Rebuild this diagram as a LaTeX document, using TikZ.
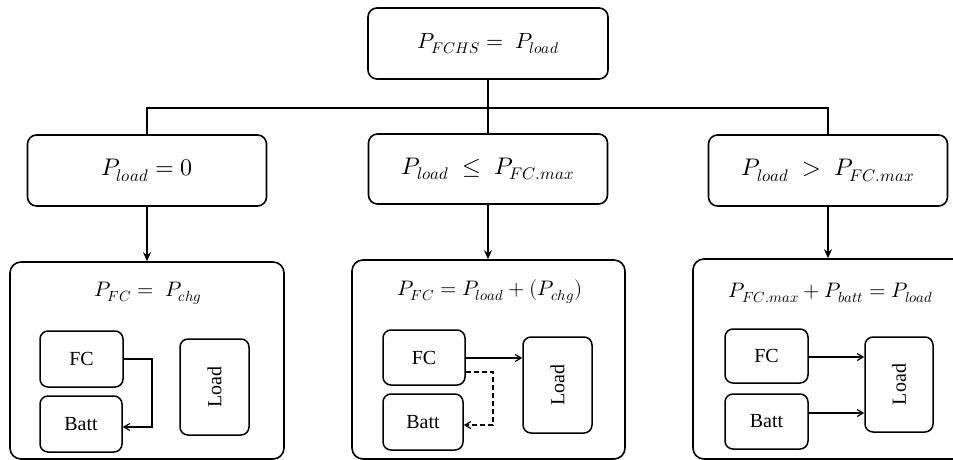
\documentclass[tikz,border=0pt]{standalone}
\usepackage{fontspec}
\usepackage{unicode-math}
\setmainfont{Liberation Serif}
\setmathfont{Latin Modern Math}
\usetikzlibrary{arrows.meta}

\tikzset{
  cond/.style={draw, line width=1.6pt, rounded corners=9pt, align=center,
    font=\fontsize{22}{26}\selectfont},
  case/.style={cond, font=\fontsize{24}{28}\selectfont},
  panel/.style={draw, line width=1.6pt, rounded corners=11pt},
  unit/.style={draw, line width=1.5pt, rounded corners=8pt,
    font=\fontsize{20}{24}\selectfont},
  eqn/.style={font=\fontsize{21}{25}\selectfont},
  bus/.style={line width=1.5pt},
  down/.style={line width=1.5pt, -{Stealth[length=9pt,width=8pt]}},
  flow/.style={line width=1.2pt, -{Straight Barb[length=6pt,width=7pt]}},
  dashflow/.style={flow, dash pattern=on 5pt off 3pt},
}

\begin{document}
\begin{tikzpicture}[x=1pt, y=-1pt]
\clip (0,0) rectangle (953,460);

% top decision
\node[cond, minimum width=240pt, minimum height=71pt] (root) at (488,43.5)
  {$P_{FCHS} =\; P_{load}$};

% three cases
\node[case, minimum width=239pt, minimum height=71pt] (c1) at (147,170.5)
  {$P_{load} = 0$};
\node[case, minimum width=239pt, minimum height=70pt] (c2) at (488,169)
  {$P_{load} \;\le\; P_{FC.max}$};
\node[case, minimum width=239pt, minimum height=71pt] (c3) at (828,170.5)
  {$P_{load} \;>\; P_{FC.max}$};

% branching bus
\coordinate (j) at (488,108);
\draw[bus] (root.south) -- (j);
\draw[bus] (c1.north) |- (j) -| (c3.north);
\draw[bus] (j) -- (c2.north);

% result panels
\node[panel, minimum width=274pt, minimum height=197pt] (p1) at (147,360.5) {};
\node[panel, minimum width=273pt, minimum height=199pt] (p2) at (488.5,359.5) {};
\node[panel, minimum width=275pt, minimum height=200pt] (p3) at (830.5,359) {};

\draw[down] (c1.south) -- (c1.south |- p1.north);
\draw[down] (c2.south) -- (c2.south |- p2.north);
\draw[down] (c3.south) -- (c3.south |- p3.north);

% panel 1: charging from the fuel cell
\node[eqn] (e1) at (148,293) {$P_{FC} =\; P_{chg}$};
\node[unit, minimum width=83pt, minimum height=56pt] (fc1) at (81.5,359) {FC};
\node[unit, minimum width=82pt, minimum height=56pt] (bt1) at (81,424) {Batt};
\node[unit, minimum width=69pt, minimum height=96pt] (ld1) at (214.5,387)
  {\rotatebox{90}{Load}};
\draw[flow] (fc1.east) -- (152,359) -- (152,427) -- (bt1.east |- 0,427);

% panel 2: fuel cell supplies the load (and optional charging)
\node[eqn] (e2) at (490,292) {$P_{FC} = P_{load} + (P_{chg})$};
\node[unit, minimum width=82pt, minimum height=55pt] (fc2) at (424,357.5) {FC};
\node[unit, minimum width=80pt, minimum height=56pt] (bt2) at (423,422) {Batt};
\node[unit, minimum width=69pt, minimum height=96pt] (ld2) at (557.5,385)
  {\rotatebox{90}{Load}};
\draw[flow] (fc2.east |- 0,358) -- (ld2.west |- 0,358);
\draw[dashflow] (fc2.east |- 0,372) -- (493,372) -- (493,425)
  -- (bt2.east |- 0,425);

% panel 3: fuel cell and battery share the load
\node[eqn] (e3) at (831,293) {$P_{FC.max} + P_{batt} = P_{load}$};
\node[unit, minimum width=83pt, minimum height=54pt] (fc3) at (766.5,356) {FC};
\node[unit, minimum width=83pt, minimum height=55pt] (bt3) at (766.5,421.5) {Batt};
\node[unit, minimum width=68pt, minimum height=95pt] (ld3) at (899,384.5)
  {\rotatebox{90}{Load}};
\draw[flow] (fc3.east |- 0,357) -- (ld3.west |- 0,357);
\draw[flow] (bt3.east |- 0,413) -- (ld3.west |- 0,413);
\end{tikzpicture}
\end{document}
